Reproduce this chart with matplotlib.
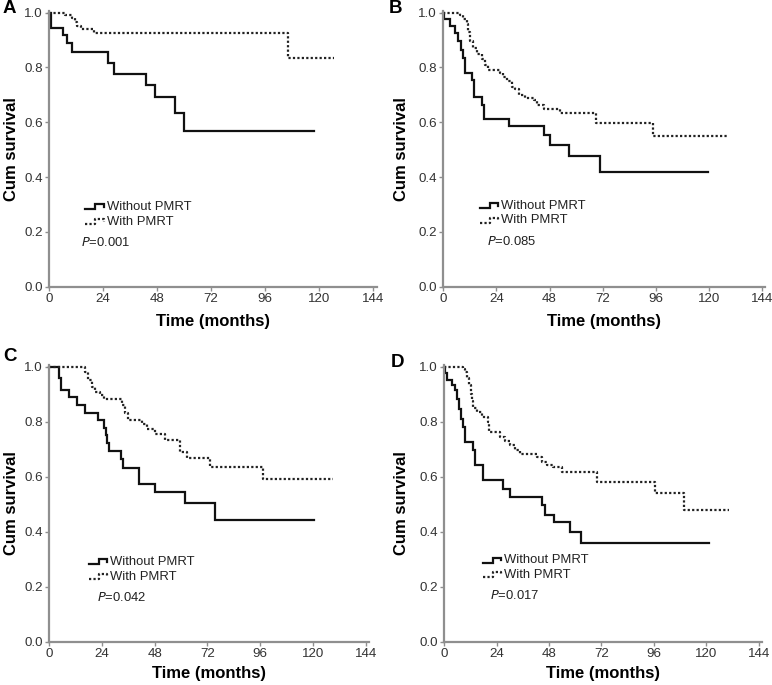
import matplotlib
matplotlib.use('Agg')
import matplotlib.pyplot as plt

plt.rcParams['font.family'] = ['Liberation Sans', 'DejaVu Sans']

# survival step data (months, cumulative survival)
a_without_t = [0, 1, 6.4, 7.9, 10.1, 26.4, 28.7, 43.1, 47.3, 55.9, 59.9, 117.6]
a_without_s = [1.0, 0.944, 0.920, 0.889, 0.855, 0.816, 0.776, 0.737, 0.691, 0.634, 0.569, 0.569]
a_with_t = [0, 7, 10, 11.5, 12.5, 14, 20, 106, 126.6]
a_with_s = [1.0, 0.99, 0.98, 0.965, 0.95, 0.94, 0.925, 0.833, 0.833]

b_without_t = [0, 0.3, 3, 5.5, 6.8, 7.9, 8.8, 9.8, 12.8, 13.8, 17.4, 18.4, 29.5, 45.3, 48.4,
               56.8, 70.6, 119.4]
b_without_s = [1.0, 0.977, 0.950, 0.926, 0.895, 0.865, 0.835, 0.780, 0.756, 0.694, 0.663, 0.613,
               0.585, 0.552, 0.518, 0.478, 0.418, 0.418]
b_with_t = [0, 7.6, 9.1, 10.5, 11.3, 12.1, 13.6, 15.1, 17.4, 18.9, 20.4, 25.7, 27.2, 28.7, 31,
            32.5, 34, 37, 40.8, 42.3, 45.3, 52.9, 69.2, 94.9, 128.2]
b_with_s = [1.0, 0.99, 0.976, 0.96, 0.93, 0.895, 0.87, 0.85, 0.83, 0.81, 0.79, 0.78, 0.765, 0.75,
            0.73, 0.72, 0.70, 0.69, 0.68, 0.664, 0.65, 0.633, 0.596, 0.550, 0.550]

c_without_t = [0, 4.6, 5.5, 9.1, 12.6, 16.4, 22.2, 25.0, 25.8, 26.5, 27.2, 32.8, 33.8, 40.8, 48.2,
               62, 75.5, 120.4]
c_without_s = [1.0, 0.958, 0.917, 0.889, 0.861, 0.833, 0.806, 0.778, 0.75, 0.722, 0.694, 0.663,
               0.633, 0.575, 0.546, 0.505, 0.442, 0.442]
c_with_t = [0, 16.2, 17.9, 19.5, 21, 23.3, 24.8, 33.1, 34.7, 35.9, 42.2, 44.5, 48.3, 52.9, 59.7,
            62.8, 73.1, 97.0, 129.0]
c_with_s = [1.0, 0.98, 0.95, 0.926, 0.908, 0.896, 0.884, 0.86, 0.83, 0.805, 0.793, 0.775, 0.756,
            0.732, 0.69, 0.668, 0.634, 0.590, 0.590]

d_without_t = [0, 0.3, 1.4, 3.4, 4.9, 6.0, 6.9, 7.5, 8.4, 9.5, 13.3, 14.1, 17.9, 27.1, 30.2, 44.7,
               46.2, 50.1, 57.4, 62.4, 121.3]
d_without_s = [1.0, 0.976, 0.95, 0.932, 0.914, 0.884, 0.847, 0.81, 0.78, 0.726, 0.696, 0.641, 0.587,
               0.556, 0.525, 0.496, 0.462, 0.436, 0.40, 0.358, 0.358]
d_with_t = [0, 8.7, 9.5, 10.3, 11.2, 12.1, 12.6, 13.3, 14.9, 17.2, 20.2, 20.7, 25.6, 27.8, 30.2,
            32.5, 34.8, 42.4, 44.7, 47, 50, 53.9, 70, 96.5, 109.8, 130.2]
d_with_s = [1.0, 0.99, 0.98, 0.96, 0.935, 0.90, 0.875, 0.848, 0.835, 0.818, 0.80, 0.762, 0.744,
            0.73, 0.714, 0.696, 0.683, 0.67, 0.655, 0.641, 0.635, 0.617, 0.582, 0.540, 0.479, 0.479]

panel_letters = ['A', 'B', 'C', 'D']
p_values = ['0.001', '0.085', '0.042', '0.017']
x_ticks = [0, 24, 48, 72, 96, 120, 144]
y_ticks = [0.0, 0.2, 0.4, 0.6, 0.8, 1.0]
labels = ['Without PMRT', 'With PMRT']

solid = dict(color='#111111', lw=1.6, solid_joinstyle='miter')
dotted = dict(color='#222222', lw=1.6, linestyle=(0, (1, 1)))
axis_grey = '#8f8f8f'

fig = plt.figure(figsize=(7.72, 6.85), dpi=100)

# [left, bottom, width, height], ylabel x, xlabel y, legend x / y, p-value x
layout = [
    ([0.0635, 0.5815, 0.4242, 0.402], -0.091, -0.100, 16.0, 0.291, 14.3),
    ([0.5742, 0.5815, 0.4171, 0.402], -0.108, -0.100, 16.6, 0.296, 19.8),
    ([0.0635, 0.0632, 0.4148, 0.4035], -0.093, -0.088, 18.2, 0.291, 21.6),
    ([0.5755, 0.0632, 0.4115, 0.4035], -0.110, -0.088, 17.6, 0.297, 21.0),
]
curves = [
    (a_without_t, a_without_s, a_with_t, a_with_s),
    (b_without_t, b_without_s, b_with_t, b_with_s),
    (c_without_t, c_without_s, c_with_t, c_with_s),
    (d_without_t, d_without_s, d_with_t, d_with_s),
]
letter_pos = [(0.003, 0.987), (0.504, 0.987), (0.004, 0.479), (0.506, 0.471)]


def legend_entry(ax, x0, y0, style, label):
    # small stair-shaped handle, like the SPSS legend
    xs = [x0, x0 + 4.6, x0 + 4.6, x0 + 8.3, x0 + 8.3]
    ys = [y0 - 0.009, y0 - 0.009, y0 + 0.009, y0 + 0.009, y0]
    ax.plot(xs, ys, clip_on=False, **style)
    ax.text(x0 + 9.6, y0, label, va='center', ha='left', fontsize=9.4, color='#222222')


for i in range(4):
    rect, ylab_x, xlab_y, leg_x, leg_y, p_x = layout[i]
    wo_t, wo_s, w_t, w_s = curves[i]
    ax = fig.add_axes(rect)

    ax.step(wo_t, wo_s, where='post', clip_on=False, **solid)
    ax.step(w_t, w_s, where='post', clip_on=False, **dotted)

    ax.set_xlim(0, 145.5)
    ax.set_ylim(0, 1.005)
    ax.set_xticks(x_ticks)
    ax.set_yticks(y_ticks)
    ax.set_yticklabels([f'{v:.1f}' for v in y_ticks])
    for side in ['top', 'right']:
        ax.spines[side].set_visible(False)
    for side in ['left', 'bottom']:
        ax.spines[side].set_color(axis_grey)
        ax.spines[side].set_linewidth(1.6)
    ax.tick_params(axis='both', direction='out', length=3, width=1, color=axis_grey,
                   labelsize=9.6, labelcolor='#333333', pad=1.5)

    ax.set_xlabel('Time (months)', fontsize=12, fontweight='bold')
    ax.set_ylabel('Cum survival', fontsize=12, fontweight='bold')
    ax.yaxis.set_label_coords(ylab_x, 0.5)
    ax.xaxis.set_label_coords(0.5, xlab_y)

    legend_entry(ax, leg_x, leg_y, solid, labels[0])
    legend_entry(ax, leg_x, leg_y - 0.054, dotted, labels[1])
    ax.text(p_x, leg_y - 0.13, r'$\it{P}$=' + p_values[i], va='center', ha='left',
            fontsize=9.4, color='#222222')

    fig.text(letter_pos[i][0], letter_pos[i][1], panel_letters[i], fontsize=13.5,
             fontweight='bold', ha='left', va='center')

fig.savefig('out.png', dpi=100)
